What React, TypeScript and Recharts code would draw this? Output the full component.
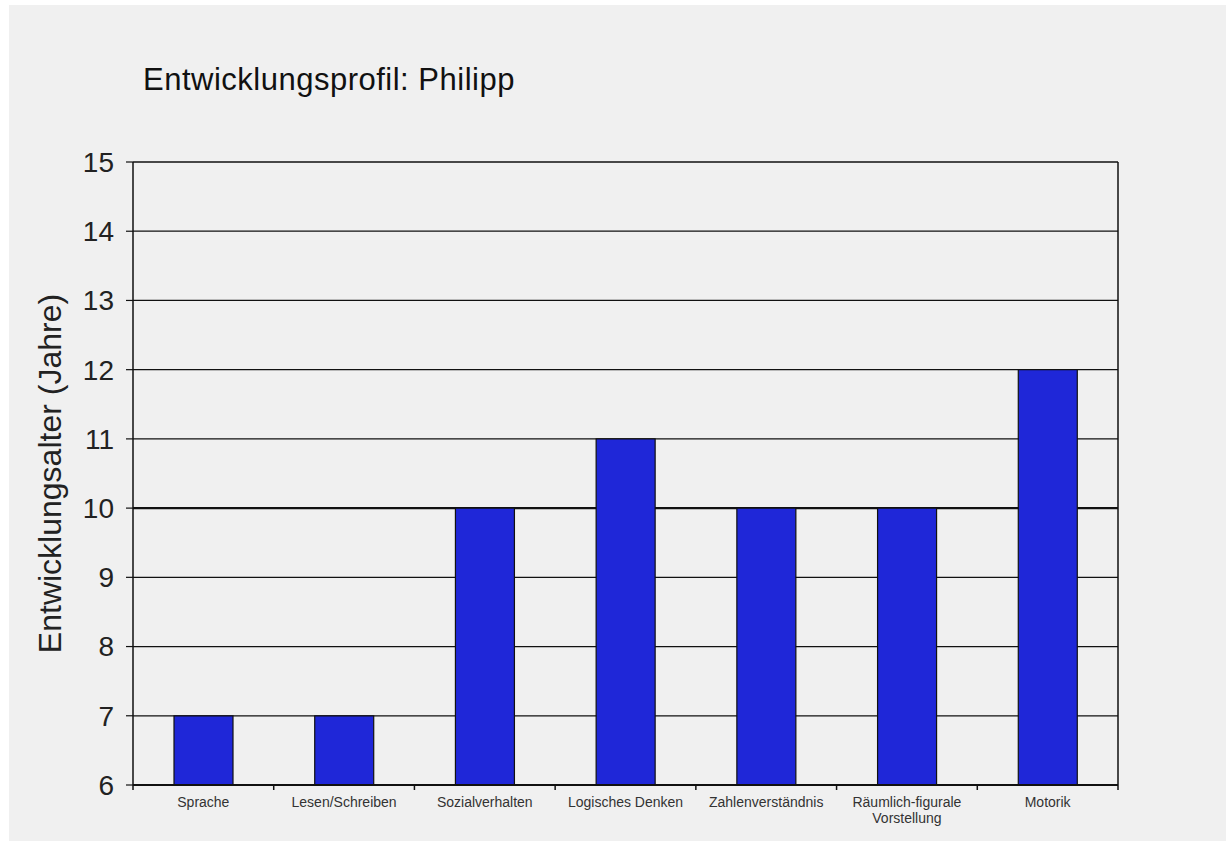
import { BarChart, Bar, XAxis, YAxis, CartesianGrid } from 'recharts';

const categories = [
  'Sprache',
  'Lesen/Schreiben',
  'Sozialverhalten',
  'Logisches Denken',
  'Zahlenverständnis',
  'Räumlich-figurale Vorstellung',
  'Motorik',
];
const ages = [7, 7, 10, 11, 10, 10, 12];
const yTicks = [6, 7, 8, 9, 10, 11, 12, 13, 14, 15];
const strongLine = [10];

const data = categories.map((name, i) => ({ name, age: ages[i] }));

const FONT = '"Liberation Sans", Arial, Helvetica, sans-serif';

// label at band centre, small tick marks at the band edges
function CategoryTick(props: any) {
  const { x, y, payload, width, visibleTicksCount, index } = props;
  const half = width / visibleTicksCount / 2;
  const text: string = payload.value;
  const lines = text.length > 20 ? text.split(' ') : [text];
  return (
    <g>
      <line x1={x - half} x2={x - half} y1={y} y2={y + 5} stroke="#111" strokeWidth={1.5} />
      {index === visibleTicksCount - 1 && (
        <line x1={x + half} x2={x + half} y1={y} y2={y + 5} stroke="#111" strokeWidth={1.5} />
      )}
      {lines.map((line, i) => (
        <text
          key={i}
          x={x}
          y={y + 22 + i * 16}
          textAnchor="middle"
          fontSize={14}
          fontFamily={FONT}
          fill="#333"
        >
          {line}
        </text>
      ))}
    </g>
  );
}

export default function App() {
  return (
    <div style={{ position: 'absolute', left: 0, top: 0, width: 1226, height: 841, background: '#fff' }}>
      <div style={{ position: 'absolute', left: 9, top: 5, width: 1217, height: 836, background: '#f0f0f0' }}>
        <div
          style={{
            position: 'absolute',
            left: 134,
            top: 57,
            fontFamily: FONT,
            fontSize: 31,
            letterSpacing: 0.5,
            color: '#111',
            whiteSpace: 'nowrap',
          }}
        >
          Entwicklungsprofil: Philipp
        </div>
        <BarChart
          width={1217}
          height={836}
          data={data}
          margin={{ top: 157, right: 107, left: 64, bottom: 16 }}
        >
          <CartesianGrid vertical={false} stroke="#111" strokeWidth={1.3} />
          <CartesianGrid vertical={false} horizontalValues={strongLine} stroke="#111" strokeWidth={2.4} />
          <XAxis
            dataKey="name"
            height={40}
            tickSize={0}
            tickMargin={0}
            tickLine={false}
            axisLine={{ stroke: '#111', strokeWidth: 2 }}
            tick={<CategoryTick />}
            interval={0}
          />
          <YAxis
            domain={[6, 15]}
            ticks={yTicks}
            width={60}
            tickSize={7}
            tickMargin={12}
            axisLine={{ stroke: '#111', strokeWidth: 1.5 }}
            tickLine={{ stroke: '#111', strokeWidth: 1.2 }}
            tick={{ fontSize: 28, fontFamily: FONT, fill: '#222' }}
            label={(p: any) => {
              const vb = p.viewBox;
              const cx = vb.x - 23;
              const cy = vb.y + vb.height / 2;
              return (
                <text
                  x={cx}
                  y={cy}
                  transform={`rotate(-90 ${cx} ${cy})`}
                  textAnchor="middle"
                  dominantBaseline="central"
                  fontSize={32}
                  fontFamily={FONT}
                  fill="#222"
                >
                  Entwicklungsalter (Jahre)
                </text>
              );
            }}
          />
          <YAxis
            yAxisId="right"
            orientation="right"
            domain={[6, 15]}
            allowDataOverflow
            ticks={yTicks}
            width={1}
            tick={false}
            tickLine={false}
            axisLine={{ stroke: '#111', strokeWidth: 1.5 }}
          />
          <Bar dataKey="age" fill="#1f27d8" stroke="#111" strokeWidth={1.2} barSize={59} isAnimationActive={false} />
        </BarChart>
      </div>
    </div>
  );
}
